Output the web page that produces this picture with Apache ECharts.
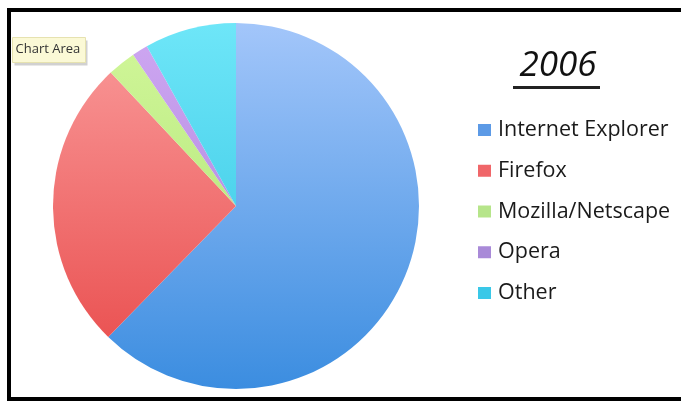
<!DOCTYPE html>
<html>
<head>
<meta charset="utf-8">
<script src="https://cdn.jsdelivr.net/npm/echarts@6/dist/echarts.min.js"></script>
<style>
  html, body { margin: 0; padding: 0; background: #fff; }
  #chart { width: 681px; height: 403px; }
</style>
</head>
<body>
<div id="chart"></div>
<script>
// browser share, 2006
var browsers = ['Internet Explorer', 'Firefox', 'Mozilla/Netscape', 'Opera', 'Other'];
var shares = [62.3, 25.7, 2.5, 1.4, 8.1];
var topColors = ['#a3c6fa', '#fa9c9c', '#d2f79a', '#cfa8f2', '#6ee6f8'];
var bottomColors = ['#3b8de0', '#e84848', '#a8e070', '#a57bd8', '#2cc0e0'];
var legendColors = ['#5c9ae6', '#f06669', '#b6e58a', '#a98ad8', '#3ac8e8'];

var chart = echarts.init(document.getElementById('chart'));

function grad(i) {
  return new echarts.graphic.LinearGradient(0, 23, 0, 389, [
    { offset: 0, color: topColors[i] },
    { offset: 1, color: bottomColors[i] }
  ], true);
}

var option = {
  backgroundColor: '#fff',
  animation: false,
  title: {
    text: '2006',
    left: 553,
    top: 44,
    textAlign: 'center',
    textStyle: {
      fontFamily: 'Open Sans',
      fontStyle: 'italic',
      fontWeight: 'normal',
      fontSize: 35,
      color: '#111'
    }
  },
  legend: {
    orient: 'vertical',
    left: 473,
    top: 114,
    itemWidth: 13,
    itemHeight: 12,
    itemGap: 18.75,
    icon: 'rect',
    textStyle: { fontFamily: 'Open Sans', fontSize: 21.5, lineHeight: 22, color: '#1a1a1a', padding: [0, 0, 0, 2] },
    data: browsers.map(function (name, i) {
      return { name: name, itemStyle: { color: legendColors[i] } };
    })
  },
  graphic: [
    // frame
    { type: 'rect', shape: { x: 8, y: 8, width: 673, height: 4 }, style: { fill: '#000' } },
    { type: 'rect', shape: { x: 7, y: 8, width: 4, height: 393 }, style: { fill: '#000' } },
    { type: 'rect', shape: { x: 7, y: 397, width: 674, height: 4 }, style: { fill: '#000' } },
    // title underline
    { type: 'rect', shape: { x: 513, y: 86, width: 87, height: 3 }, style: { fill: '#222' } },
    // hover tag
    {
      type: 'group', left: 12, top: 37, z: 100,
      children: [
        { type: 'rect', shape: { x: 2, y: 3, width: 73, height: 25 }, style: { fill: 'rgba(0,0,0,0.18)' } },
        { type: 'rect', shape: { x: 0, y: 0, width: 73, height: 25 }, style: { fill: '#fbf9d6', stroke: '#e6e2b0', lineWidth: 1 } },
        { type: 'text', x: 3, y: 5, style: { text: 'Chart Area', font: '13px "Open Sans"', fill: '#333' } }
      ]
    }
  ],
  series: [{
    type: 'pie',
    center: [236, 206],
    radius: 183,
    startAngle: 90,
    clockwise: true,
    label: { show: false },
    labelLine: { show: false },
    emphasis: { disabled: true },
    itemStyle: { borderWidth: 0 },
    data: browsers.map(function (name, i) {
      return { name: name, value: shares[i], itemStyle: { color: grad(i) } };
    })
  }]
};

chart.setOption(option);
</script>
</body>
</html>
